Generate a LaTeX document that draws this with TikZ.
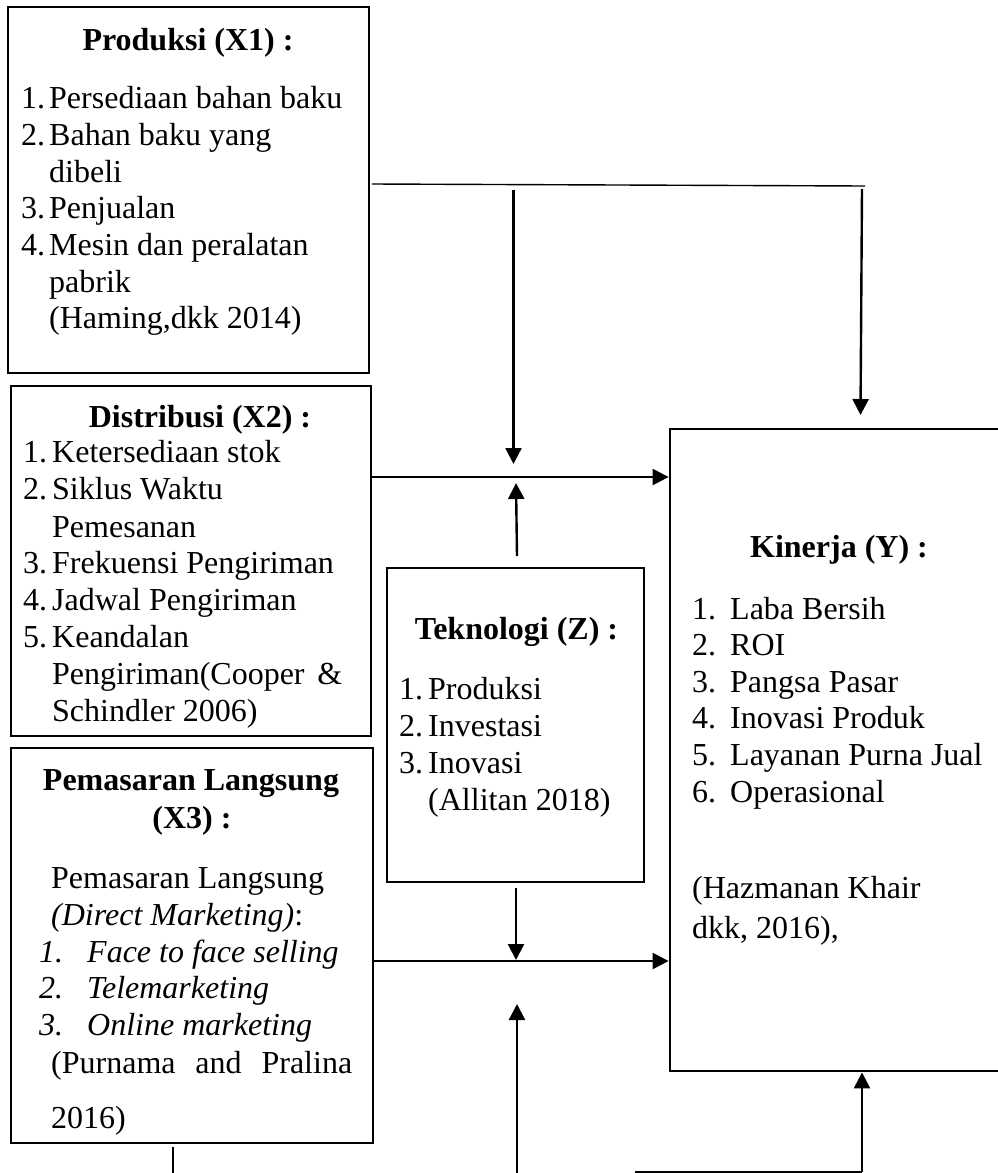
\documentclass[tikz,border=0pt]{standalone}
\usepackage{fontspec}
\setmainfont{Liberation Serif}
\usetikzlibrary{arrows.meta}
\begin{document}
\begin{tikzpicture}[x=1pt,y=-1pt,
  box/.style={draw, line width=2.8pt, inner sep=0pt},
  txt/.style={anchor=base west, inner sep=0pt, font=\fontsize{32}{36}\selectfont},
  ttl/.style={anchor=base, inner sep=0pt, font=\fontsize{32}{36}\selectfont\bfseries},
  arr/.style={line width=2.4pt, -{Triangle[length=16pt,width=16pt]}},
  thinline/.style={line width=1.4pt}]
\path[use as bounding box] (0,0) rectangle (998,1173);
\clip (0,0) rectangle (998,1173);

% boxes
\node[box, minimum width=361pt, minimum height=366pt] (x1) at (188.5,190) {};
\node[box, minimum width=360pt, minimum height=350pt] (x2) at (191,561) {};
\node[box, minimum width=362pt, minimum height=395pt] (x3) at (192,945.5) {};
\node[box, minimum width=257pt, minimum height=314pt] (z) at (515.5,725) {};
\node[box, minimum width=340pt, minimum height=642pt] (y) at (840,750) {};

% X1 text
\node[ttl] (x1t) at (188,50) {Produksi (X1) :};
\node[txt] (x1n1) at (21,108) {1.};
\node[txt] (x1i1) at (49,108) {Persediaan bahan baku};
\node[txt] (x1n2) at (21,145) {2.};
\node[txt] (x1i2) at (49,145) {Bahan baku yang};
\node[txt] (x1i2b) at (49,182) {dibeli};
\node[txt] (x1n3) at (21,218) {3.};
\node[txt] (x1i3) at (49,218) {Penjualan};
\node[txt] (x1n4) at (21,255) {4.};
\node[txt] (x1i4) at (49,255) {Mesin dan peralatan};
\node[txt] (x1i4b) at (49,292) {pabrik};
\node[txt] (x1c) at (49,328) {(Haming,dkk 2014)};

% X2 text
\node[ttl] (x2t) at (200,427) {Distribusi (X2) :};
\node[txt] (x2n1) at (23,462) {1.};
\node[txt] (x2i1) at (52,462) {Ketersediaan stok};
\node[txt] (x2n2) at (23,499) {2.};
\node[txt] (x2i2) at (52,499) {Siklus Waktu};
\node[txt] (x2i2b) at (52,537) {Pemesanan};
\node[txt] (x2n3) at (23,573) {3.};
\node[txt] (x2i3) at (52,573) {Frekuensi Pengiriman};
\node[txt] (x2n4) at (23,610) {4.};
\node[txt] (x2i4) at (52,610) {Jadwal Pengiriman};
\node[txt] (x2n5) at (23,647) {5.};
\node[txt] (x2i5) at (52,647) {Keandalan};
\node[txt] (x2i5b) at (52,684) {\makebox[290pt][s]{Pengiriman(Cooper \&}};
\node[txt] (x2c) at (52,721) {Schindler 2006)};

% X3 text
\node[ttl] (x3t1) at (191,790) {Pemasaran Langsung};
\node[ttl] (x3t2) at (192,828) {(X3) :};
\node[txt] (x3a) at (51,888) {Pemasaran Langsung};
\node[txt] (x3b) at (51,925) {\textit{(Direct Marketing)}:};
\node[txt] (x3n1) at (39,962) {\textit{1.}};
\node[txt] (x3i1) at (87,962) {\textit{Face to face selling}};
\node[txt] (x3n2) at (39,998) {\textit{2.}};
\node[txt] (x3i2) at (87,998) {\textit{Telemarketing}};
\node[txt] (x3n3) at (39,1035) {\textit{3.}};
\node[txt] (x3i3) at (87,1035) {\textit{Online marketing}};
\node[txt] (x3c1) at (51,1073) {\makebox[301pt][s]{(Purnama and Pralina}};
\node[txt] (x3c2) at (51,1128) {2016)};

% Z text
\node[ttl] (zt) at (516.5,639) {Teknologi (Z) :};
\node[txt] (zn1) at (399,699) {1.};
\node[txt] (zi1) at (428,699) {Produksi};
\node[txt] (zn2) at (399,736) {2.};
\node[txt] (zi2) at (428,736) {Investasi};
\node[txt] (zn3) at (399,773) {3.};
\node[txt] (zi3) at (428,773) {Inovasi};
\node[txt] (zc) at (428,810) {(Allitan 2018)};

% Y text
\node[ttl] (yt) at (839,557) {Kinerja (Y) :};
\node[txt] (yn1) at (692,619) {1.};
\node[txt] (yi1) at (730,619) {Laba Bersih};
\node[txt] (yn2) at (692,655) {2.};
\node[txt] (yi2) at (730,655) {ROI};
\node[txt] (yn3) at (692,692) {3.};
\node[txt] (yi3) at (730,692) {Pangsa Pasar};
\node[txt] (yn4) at (692,728) {4.};
\node[txt] (yi4) at (730,728) {Inovasi Produk};
\node[txt] (yn5) at (692,765) {5.};
\node[txt] (yi5) at (730,765) {Layanan Purna Jual};
\node[txt] (yn6) at (692,802) {6.};
\node[txt] (yi6) at (730,802) {Operasional};
\node[txt] (yc1) at (692,898) {(Hazmanan Khair};
\node[txt] (yc2) at (692,938) {dkk, 2016),};

% connector points
\coordinate (tl1) at (372,184);
\coordinate (tl2) at (865,186);
\coordinate (a1s) at (513.5,190);
\coordinate (a1e) at (513.5,464);
\coordinate (a2s) at (862,189);
\coordinate (a2e) at (860.5,415);
\coordinate (zu) at (517,556);
\coordinate (zue) at (516,483);
\coordinate (zd) at (516,888);
\coordinate (zde) at (516,960);
\coordinate (bu) at (517,1175);
\coordinate (bue) at (517,1004);
\coordinate (bl1) at (635,1172);
\coordinate (bl2) at (862,1172);
\coordinate (sl1) at (173,1147);
\coordinate (sl2) at (173,1175);

% connectors
\draw[thinline] (tl1) -- (tl2);
\draw[arr] (a1s) -- (a1e);
\draw[arr] (a2s) -- (a2e);
\draw[arr] (x2.east |- 0,477) -- (y.west |- 0,477);
\draw[arr] (zu) -- (zue);
\draw[arr] (zd) -- (zde);
\draw[arr] (x3.east |- 0,961) -- (y.west |- 0,961);
\draw[arr] (bu) -- (bue);
\draw[thinline] (bl1) -- (bl2);
\draw[arr] (bl2) -- (y.south -| bl2);
\draw[thinline] (sl1) -- (sl2);
\end{tikzpicture}
\end{document}
